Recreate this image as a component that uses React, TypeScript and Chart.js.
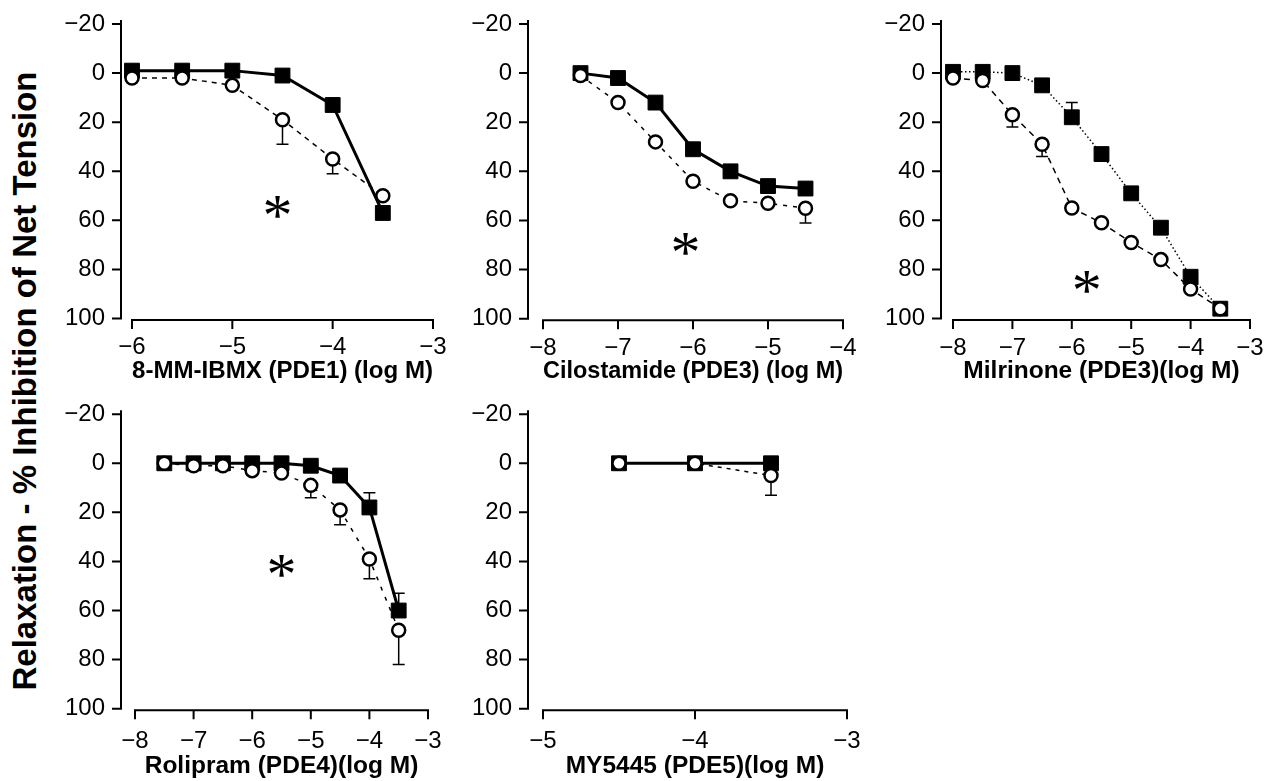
import React, { useEffect, useRef } from "react";
import { Chart, registerables } from "chart.js";

Chart.register(...registerables);

// ---------- DATA ----------
// Panel 1: 8-MM-IBMX (PDE1)
const doses1 = [-6, -5.5, -5, -4.5, -4, -3.5];
const squares1 = [-1, -1, -1, 1, 13, 57];
const circles1 = [2, 2, 5, 19, 35, 50];
const squaresErr1 = [0, 0, 0, 0, 0, 0];
const circlesErr1 = [0, 0, 0, 10, 6, 0];
const star1 = [-4.55, 54.5];
const xTicks1 = [-6, -5, -4, -3];

// Panel 2: Cilostamide (PDE3)
const doses2 = [-7.5, -7, -6.5, -6, -5.5, -5, -4.5];
const squares2 = [0, 2, 12, 31, 40, 46, 47];
const circles2 = [1, 12, 28, 44, 52, 53, 55];
const squaresErr2 = [0, 0, 0, 0, 0, 0, 0];
const circlesErr2 = [0, 0, 0, 0, 0, 0, 6];
const star2 = [-6.1, 69.5];
const xTicks2 = [-8, -7, -6, -5, -4];

// Panel 3: Milrinone (PDE3)
const doses3 = [-8, -7.5, -7, -6.5, -6, -5.5, -5, -4.5, -4, -3.5];
const squares3 = [-0.5, -0.5, 0, 5, 18, 33, 49, 63, 83, 96];
const circles3 = [2, 3, 17, 29, 55, 61, 69, 76, 88, 96];
const squaresErr3 = [0, 0, 0, 0, 6, 0, 0, 0, 0, 0];
const circlesErr3 = [0, 0, 5, 5, 0, 0, 0, 0, 0, 0];
const star3 = [-5.75, 85];
const xTicks3 = [-8, -7, -6, -5, -4, -3];

// Panel 4: Rolipram (PDE4)
const doses4 = [-7.5, -7, -6.5, -6, -5.5, -5, -4.5, -4, -3.5];
const squares4 = [0, 0, 0, 0, 0, 1, 5, 18, 60];
const circles4 = [0, 1, 1, 3, 4, 9, 19, 39, 68];
const squaresErr4 = [0, 0, 0, 0, 0, 0, 0, 6, 7];
const circlesErr4 = [0, 0, 0, 0, 0, 5, 6, 8, 14];
const star4 = [-5.5, 42];
const xTicks4 = [-8, -7, -6, -5, -4, -3];

// Panel 5: MY5445 (PDE5)
const doses5 = [-4.5, -4, -3.5];
const squares5 = [0, 0, 0];
const circles5 = [0, 0, 5];
const squaresErr5 = [0, 0, 0];
const circlesErr5 = [0, 0, 8];
const xTicks5 = [-5, -4, -3];

const yTicks = [-20, 0, 20, 40, 60, 80, 100];
const yTitle = "Relaxation - % Inhibition of Net Tension";

const titles = [
  "8-MM-IBMX (PDE1) (log M)",
  "Cilostamide (PDE3) (log M)",
  "Milrinone (PDE3)(log M)",
  "Rolipram (PDE4)(log M)",
  "MY5445 (PDE5)(log M)",
];

// ---------- LAYOUT / STYLE ----------
const FONT = '"Liberation Sans", Arial, Helvetica, sans-serif';

type PanelDef = {
  title: string;
  doses: number[];
  squares: number[];
  circles: number[];
  squaresErr: number[];
  circlesErr: number[];
  star: number[] | null;
  xTicks: number[];
  left: number;
  top: number;
  width: number;
  height: number;
  yBoxW: number;
  xBoxH: number;
  padTop: number;
  padRight: number;
  axisGap: number;
  xTickPad: number;
  sqDash: number[];
  sqWidth: number;
  ciDash: number[];
};

const panels: PanelDef[] = [
  {
    title: titles[0], doses: doses1, squares: squares1, circles: circles1,
    squaresErr: squaresErr1, circlesErr: circlesErr1, star: star1, xTicks: xTicks1,
    left: 55, top: 0, width: 400, height: 386, yBoxW: 77, xBoxH: 67.5, padTop: 24, padRight: 22,
    axisGap: 11, xTickPad: 14, sqDash: [], sqWidth: 3, ciDash: [5, 5],
  },
  {
    title: titles[1], doses: doses2, squares: squares2, circles: circles2,
    squaresErr: squaresErr2, circlesErr: circlesErr2, star: star2, xTicks: xTicks2,
    left: 466, top: 0, width: 399, height: 386, yBoxW: 77, xBoxH: 67.3, padTop: 24, padRight: 22,
    axisGap: 15, xTickPad: 15, sqDash: [], sqWidth: 3, ciDash: [4, 6],
  },
  {
    title: titles[2], doses: doses3, squares: squares3, circles: circles3,
    squaresErr: squaresErr3, circlesErr: circlesErr3, star: star3, xTicks: xTicks3,
    left: 876, top: 0, width: 388, height: 386, yBoxW: 77, xBoxH: 67.5, padTop: 24, padRight: 14,
    axisGap: 12, xTickPad: 15, sqDash: [1.5, 2.5], sqWidth: 1.5, ciDash: [6, 5],
  },
  {
    title: titles[3], doses: doses4, squares: squares4, circles: circles4,
    squaresErr: squaresErr4, circlesErr: circlesErr4, star: star4, xTicks: xTicks4,
    left: 58, top: 390, width: 392, height: 391, yBoxW: 77, xBoxH: 72.3, padTop: 24.2, padRight: 22,
    axisGap: 14, xTickPad: 18, sqDash: [], sqWidth: 3, ciDash: [4, 7],
  },
  {
    title: titles[4], doses: doses5, squares: squares5, circles: circles5,
    squaresErr: squaresErr5, circlesErr: circlesErr5, star: null, xTicks: xTicks5,
    left: 466, top: 390, width: 403, height: 391, yBoxW: 77, xBoxH: 72.3, padTop: 24.2, padRight: 22,
    axisGap: 15, xTickPad: 18, sqDash: [], sqWidth: 3, ciDash: [4, 5],
  },
];

const fmt = (v: number) => (v < 0 ? "\u2212" + Math.abs(v) : String(v));

const zeroPadding = (s: any) => {
  s.paddingLeft = 0;
  s.paddingRight = 0;
  s.paddingTop = 0;
  s.paddingBottom = 0;
};

const decorPlugin = {
  id: "decor",
  beforeDatasetsDraw(chart: any, _args: any, opts: any) {
    const ctx = chart.ctx;
    const xs = chart.scales.x;
    const ys = chart.scales.y;
    ctx.save();
    ctx.strokeStyle = "#000";
    ctx.lineWidth = 1.5;
    chart.data.datasets.forEach((ds: any, di: number) => {
      const errs: number[] = opts.errors[di];
      const dir: number = opts.errDir[di];
      ds.data.forEach((pt: any, i: number) => {
        const e = errs[i];
        if (!e) return;
        const x = xs.getPixelForValue(pt.x);
        const y0 = ys.getPixelForValue(pt.y);
        const y1 = ys.getPixelForValue(pt.y + dir * e);
        ctx.beginPath();
        ctx.moveTo(x, y0);
        ctx.lineTo(x, y1);
        ctx.moveTo(x - 6, y1);
        ctx.lineTo(x + 6, y1);
        ctx.stroke();
      });
    });
    ctx.restore();
  },
  afterDraw(chart: any, _args: any, opts: any) {
    const ctx = chart.ctx;
    const xs = chart.scales.x;
    const ys = chart.scales.y;
    const area = chart.chartArea;
    ctx.save();
    ctx.strokeStyle = "#000";
    ctx.lineWidth = 2;
    ctx.lineCap = "butt";
    // y axis (detached to the left)
    const ax = Math.round(area.left - opts.axisGap);
    const yTop = ys.getPixelForValue(opts.yTicks[0]);
    const yBot = ys.getPixelForValue(opts.yTicks[opts.yTicks.length - 1]);
    ctx.beginPath();
    ctx.moveTo(ax, yTop - 4);
    ctx.lineTo(ax, yBot + 1);
    opts.yTicks.forEach((v: number) => {
      const y = ys.getPixelForValue(v);
      ctx.moveTo(ax - 9, y);
      ctx.lineTo(ax, y);
    });
    ctx.stroke();
    // x axis
    const ay = area.bottom + 1.5;
    const x0 = xs.getPixelForValue(opts.xTicks[0]);
    const x1 = xs.getPixelForValue(opts.xTicks[opts.xTicks.length - 1]);
    ctx.beginPath();
    ctx.moveTo(x0 - 1, ay);
    ctx.lineTo(x1 + 1, ay);
    opts.xTicks.forEach((v: number) => {
      const x = xs.getPixelForValue(v);
      ctx.moveTo(x, ay);
      ctx.lineTo(x, ay + 9);
    });
    ctx.stroke();
    // significance asterisk
    if (opts.star) {
      const cx = xs.getPixelForValue(opts.star[0]);
      const cy = ys.getPixelForValue(opts.star[1]);
      ctx.fillStyle = "#000";
      ctx.font = '60px "Liberation Serif", "Times New Roman", serif';
      ctx.textAlign = "left";
      ctx.textBaseline = "alphabetic";
      const m = ctx.measureText("*");
      const w = m.actualBoundingBoxRight + m.actualBoundingBoxLeft;
      const tx = cx - w / 2 + m.actualBoundingBoxLeft;
      const ty = cy + (m.actualBoundingBoxAscent - m.actualBoundingBoxDescent) / 2;
      ctx.fillText("*", tx, ty);
    }
    ctx.restore();
  },
};

function Panel({ p }: { p: PanelDef }) {
  const ref = useRef<HTMLCanvasElement | null>(null);
  useEffect(() => {
    if (!ref.current) return;
    const tickFont = { family: FONT, size: 24, weight: "normal" as const };
    const chart = new Chart(ref.current, {
      type: "scatter",
      data: {
        datasets: [
          {
            label: "circles",
            data: p.doses.map((d, i) => ({ x: d, y: p.circles[i] })),
            showLine: true,
            borderColor: "#000",
            borderWidth: 1.5,
            borderDash: p.ciDash,
            pointStyle: "circle",
            pointRadius: 6.5,
            pointBackgroundColor: "#fff",
            pointBorderColor: "#000",
            pointBorderWidth: 2.5,
            clip: false as any,
            order: 0,
          },
          {
            label: "squares",
            data: p.doses.map((d, i) => ({ x: d, y: p.squares[i] })),
            showLine: true,
            borderColor: "#000",
            borderWidth: p.sqWidth,
            borderDash: p.sqDash,
            pointStyle: "rect",
            pointRadius: 10.5,
            pointBackgroundColor: "#000",
            pointBorderColor: "#000",
            pointBorderWidth: 1,
            clip: false as any,
            order: 1,
          },
        ],
      },
      options: {
        responsive: false,
        animation: false,
        events: [],
        layout: { padding: { top: p.padTop, right: p.padRight, bottom: 0, left: 0 } },
        plugins: {
          legend: { display: false },
          tooltip: { enabled: false },
          decor: {
            errors: [p.circlesErr, p.squaresErr],
            errDir: [1, -1],
            star: p.star,
            xTicks: p.xTicks,
            yTicks: yTicks,
            axisGap: p.axisGap,
          },
        } as any,
        scales: {
          x: {
            type: "linear",
            min: p.xTicks[0],
            max: p.xTicks[p.xTicks.length - 1],
            afterFit: (s: any) => {
              s.height = p.xBoxH;
              zeroPadding(s);
            },
            afterBuildTicks: (s: any) => {
              s.ticks = p.xTicks.map((v) => ({ value: v }));
            },
            grid: { display: false, drawTicks: false },
            border: { display: false },
            ticks: {
              font: tickFont,
              color: "#000",
              padding: p.xTickPad,
              maxRotation: 0,
              autoSkip: false,
              callback: (v: any) => fmt(Number(v)),
            },
            title: {
              display: true,
              text: p.title,
              color: "#000",
              font: { family: FONT, size: 24.5, weight: "bold" },
              padding: { top: 0, bottom: 0 },
            },
          },
          y: {
            type: "linear",
            reverse: true,
            min: yTicks[0],
            max: yTicks[yTicks.length - 1],
            afterFit: (s: any) => {
              s.width = p.yBoxW;
              zeroPadding(s);
            },
            afterBuildTicks: (s: any) => {
              s.ticks = yTicks.map((v) => ({ value: v }));
            },
            grid: { display: false, drawTicks: false },
            border: { display: false },
            ticks: {
              font: tickFont,
              color: "#000",
              padding: p.axisGap + 16,
              callback: (v: any) => fmt(Number(v)),
            },
          },
        },
      },
      plugins: [decorPlugin as any],
    });
    return () => chart.destroy();
  }, [p]);
  return (
    <canvas
      ref={ref}
      width={p.width}
      height={p.height}
      style={{ position: "absolute", left: p.left, top: p.top, width: p.width, height: p.height }}
    />
  );
}

export default function App() {
  return (
    <div
      style={{
        position: "absolute",
        left: 0,
        top: 0,
        width: 1264,
        height: 781,
        background: "#fff",
        overflow: "hidden",
        fontFamily: FONT,
      }}
    >
      <div
        style={{
          position: "absolute",
          left: 24,
          top: 381,
          transform: "translate(-50%, -50%) rotate(-90deg)",
          whiteSpace: "nowrap",
          fontWeight: "bold",
          fontSize: 33,
          lineHeight: "33px",
          color: "#000",
        }}
      >
        {yTitle}
      </div>
      {panels.map((p, i) => (
        <Panel key={i} p={p} />
      ))}
    </div>
  );
}
